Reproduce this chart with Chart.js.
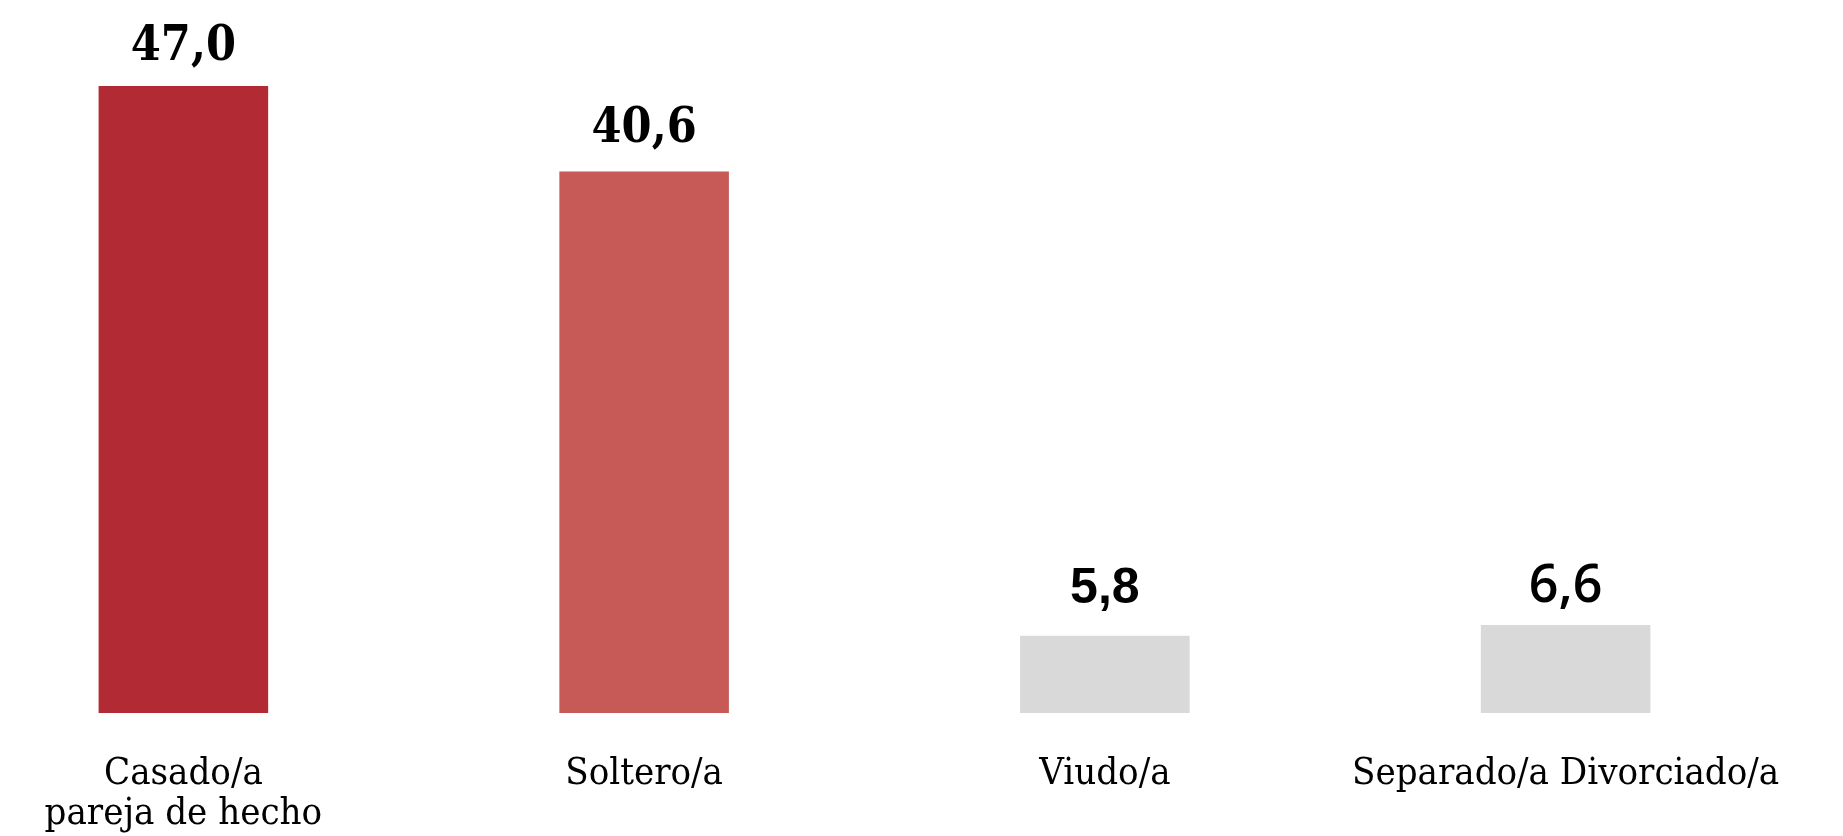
<!DOCTYPE html>
<html>
<head>
<meta charset="utf-8">
<script src="https://cdn.jsdelivr.net/npm/chart.js@4.4.1/dist/chart.umd.min.js"></script>
<style>
    html, body { margin: 0; padding: 0; background: #fff; overflow: hidden; }
    #wrap { position: absolute; left: -47px; top: 0; width: 1843px; height: 836px; }
</style>
</head>
<body>
<div id="wrap"><canvas id="myChart"></canvas></div>
<script>
const categories = [['Casado/a', 'pareja de hecho'], 'Soltero/a', 'Viudo/a', 'Separado/a Divorciado/a'];
const values = [47.0, 40.6, 5.8, 6.6];
const barColors = ['#b22a33', '#c75a56', '#d9d9d9', '#d9d9d9'];
// the source mixes fonts in the value labels
const valueFonts = ['bold 48px "DejaVu Serif Condensed"', 'bold 48px "DejaVu Serif Condensed"', 'bold 50px "Liberation Sans"', '600 52px "Open Sans"'];
const valueGaps = [26, 29, 33, 23];

const valueLabels = {
    id: 'valueLabels',
    afterDatasetsDraw(chart) {
        const c = chart.ctx;
        const meta = chart.getDatasetMeta(0);
        const y = chart.scales.y;
        c.save();
        c.fillStyle = '#000';
        c.textAlign = 'center';
        c.textBaseline = 'alphabetic';
        meta.data.forEach(function (bar, i) {
            c.font = valueFonts[i];
            c.fillText(values[i].toFixed(1).replace('.', ','), bar.x, y.getPixelForValue(values[i]) - valueGaps[i]);
        });
        c.restore();
    }
};

new Chart(document.getElementById('myChart'), {
    type: 'bar',
    data: {
        labels: categories,
        datasets: [{
            data: values,
            backgroundColor: barColors,
            borderWidth: 0,
            barPercentage: 0.92,
            categoryPercentage: 0.4
        }]
    },
    options: {
        responsive: true,
        maintainAspectRatio: false,
        animation: false,
        layout: { padding: { top: 46, left: 0, right: 0, bottom: 0 } },
        plugins: {
            legend: { display: false },
            tooltip: { enabled: false }
        },
        scales: {
            y: {
                display: false,
                min: 0,
                max: 50
            },
            x: {
                grid: { display: false, drawTicks: true, tickLength: 41 },
                border: { display: false },
                ticks: {
                    color: '#000',
                    autoSkip: false,
                    maxRotation: 0,
                    padding: 0,
                    font: { family: 'DejaVu Serif Condensed', size: 38, lineHeight: 1.05 }
                },
                afterFit: function (scale) {
                    scale.height = 123;
                }
            }
        }
    },
    plugins: [valueLabels]
});
</script>
</body>
</html>
